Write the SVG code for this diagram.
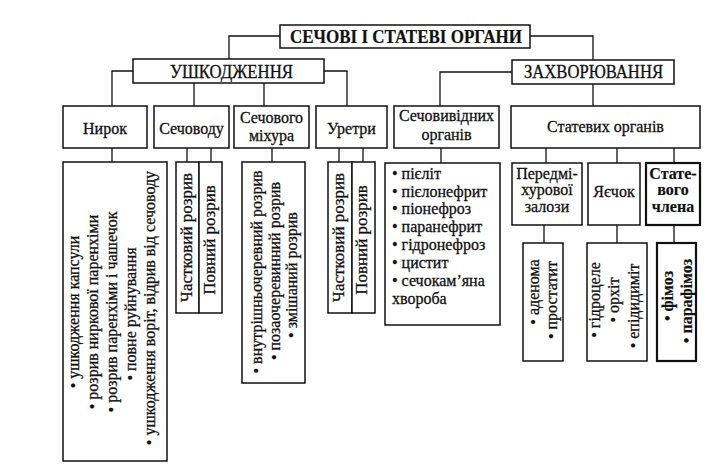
<svg xmlns="http://www.w3.org/2000/svg" width="709" height="475" viewBox="0 0 709 475" font-family="'Liberation Serif', 'DejaVu Serif', 'Noto Serif', serif">
<style>
.b{fill:#fff;stroke:#111;stroke-width:1.5}
.bt{fill:#fff;stroke:#111;stroke-width:2.2}
.c{fill:none;stroke:#111;stroke-width:1.3}
text{fill:#111;font-size:16px;stroke:#111;stroke-width:0.3}
.m{text-anchor:middle}
.h{font-size:18px}
.bd{font-weight:bold;stroke-width:0.2}
.r{font-size:16px;text-anchor:middle}
.r2{font-size:17px;text-anchor:middle}
</style>
<rect width="709" height="475" fill="#fff"/>
<g id="connectors">
<path class="c" d="M280,36 H229 V59"/>
<path class="c" d="M530,36 H593 V60"/>
<path class="c" d="M133,71 H112 V106"/>
<path class="c" d="M324,71 H347 V106"/>
<path class="c" d="M194,83 V106 M264,83 V106"/>
<path class="c" d="M512,72 H440 V106"/>
<path class="c" d="M593,84 V106"/>
<path class="c" d="M112,148 V162 M187,148 V162 M211,148 V162 M272,148 V162 M339,148 V162 M363,148 V162"/>
<path class="c" d="M441,148 V163 M546,148 V163 M617,148 V163 M674,148 V163"/>
<path class="c" d="M544,225 V243 M617,225 V243 M674,225 V243"/>
</g>
<g id="root">
<rect class="b" x="280" y="25" width="250" height="23"/>
<text class="m h bd" x="406" y="43" textLength="232" lengthAdjust="spacingAndGlyphs">СЕЧОВІ І СТАТЕВІ ОРГАНИ</text>
</g>
<g id="injuries">
<rect class="b" x="133" y="59" width="191" height="24"/>
<text class="m h" x="231.5" y="78" textLength="123" lengthAdjust="spacingAndGlyphs">УШКОДЖЕННЯ</text>
</g>
<g id="diseases">
<rect class="b" x="512" y="60" width="162" height="24"/>
<text class="m h" x="593.5" y="78" textLength="139" lengthAdjust="spacingAndGlyphs">ЗАХВОРЮВАННЯ</text>
</g>
<g id="kidney">
<rect class="b" x="63" y="106" width="84" height="42"/>
<text class="m" x="105" y="134">Нирок</text>
</g>
<g id="ureter">
<rect class="b" x="154" y="106" width="75" height="42"/>
<text class="m" x="191.5" y="134">Сечоводу</text>
</g>
<g id="bladder">
<rect class="b" x="234" y="106" width="75" height="42"/>
<text class="m" x="271.5" y="123">Сечового</text>
<text class="m" x="271.5" y="141">міхура</text>
</g>
<g id="urethra">
<rect class="b" x="316" y="106" width="71" height="42"/>
<text class="m" x="351.5" y="134">Уретри</text>
</g>
<g id="urinary">
<rect class="b" x="394" y="106" width="105" height="42"/>
<text class="m" x="446.5" y="121">Сечовивідних</text>
<text class="m" x="446.5" y="140">органів</text>
</g>
<g id="genital">
<rect class="b" x="511" y="106" width="189" height="42"/>
<text class="m" x="605.5" y="132" font-size="17">Статевих органів</text>
</g>
<g id="kidney-list">
<rect class="b" x="63" y="162" width="104" height="299"/>
<text class="r" transform="translate(79,312) rotate(-90)">• ушкодження капсули</text>
<text class="r" transform="translate(98,312) rotate(-90)">• розрив ниркової паренхіми</text>
<text class="r" transform="translate(117,312) rotate(-90)">• розрив паренхіми і чашечок</text>
<text class="r" transform="translate(136,314) rotate(-90)">• повне руйнування</text>
<text class="r" transform="translate(155,308) rotate(-90)">• ушкодження воріт, відрив від сечоводу</text>
</g>
<g id="ureter-partial">
<rect class="b" x="176" y="162" width="23" height="151"/>
<text class="r2" transform="translate(192,237.5) rotate(-90)">Частковий розрив</text>
</g>
<g id="ureter-full">
<rect class="b" x="199" y="162" width="23" height="151"/>
<text class="r2" transform="translate(215,240) rotate(-90)">Повний розрив</text>
</g>
<g id="bladder-list">
<rect class="b" x="242" y="162" width="63" height="221"/>
<text class="r" transform="translate(262,272) rotate(-90)">• внутрішньочеревний розрив</text>
<text class="r" transform="translate(280,271) rotate(-90)">• позаочеревинний розрив</text>
<text class="r" transform="translate(297,275) rotate(-90)">• змішаний розрив</text>
</g>
<g id="urethra-partial">
<rect class="b" x="328" y="162" width="24" height="151"/>
<text class="r2" transform="translate(344,237.5) rotate(-90)">Частковий розрив</text>
</g>
<g id="urethra-full">
<rect class="b" x="352" y="162" width="23" height="151"/>
<text class="r2" transform="translate(367,240) rotate(-90)">Повний розрив</text>
</g>
<g id="urinary-list">
<rect class="b" x="385" y="163" width="115" height="162"/>
<text x="392" y="179">• пієліт</text>
<text x="392" y="197">• пієлонефрит</text>
<text x="392" y="214">• піонефроз</text>
<text x="392" y="232">• паранефрит</text>
<text x="392" y="250">• гідронефроз</text>
<text x="392" y="268">• цистит</text>
<text x="392" y="286">• сечокам’яна</text>
<text x="392" y="304">хвороба</text>
</g>
<g id="prostate">
<rect class="b" x="512" y="163" width="70" height="62"/>
<text class="m" x="547" y="179">Передмі-</text>
<text class="m" x="547" y="195">хурової</text>
<text class="m" x="547" y="212">залози</text>
</g>
<g id="testes">
<rect class="b" x="588" y="163" width="52" height="62"/>
<text class="m" x="614" y="197">Яєчок</text>
</g>
<g id="penis">
<rect class="bt" x="646" y="163" width="54" height="62"/>
<text class="m bd" x="673" y="179" font-size="15">Стате-</text>
<text class="m bd" x="673" y="195" font-size="15">вого</text>
<text class="m bd" x="673" y="212" font-size="15">члена</text>
</g>
<g id="prostate-list">
<rect class="b" x="523" y="243" width="40" height="118"/>
<text class="r" transform="translate(539,292) rotate(-90)">• аденома</text>
<text class="r" transform="translate(557,300) rotate(-90)">• простатит</text>
</g>
<g id="testes-list">
<rect class="b" x="587" y="243" width="60" height="118"/>
<text class="r" transform="translate(600,300) rotate(-90)">• гідроцеле</text>
<text class="r" transform="translate(619,300) rotate(-90)">• орхіт</text>
<text class="r" transform="translate(639,306) rotate(-90)">• епідидиміт</text>
</g>
<g id="penis-list">
<rect class="bt" x="657" y="243" width="39" height="118"/>
<text class="r bd" transform="translate(673,296) rotate(-90)">• фімоз</text>
<text class="r bd" transform="translate(692,301) rotate(-90)">• парафімоз</text>
</g>
</svg>
